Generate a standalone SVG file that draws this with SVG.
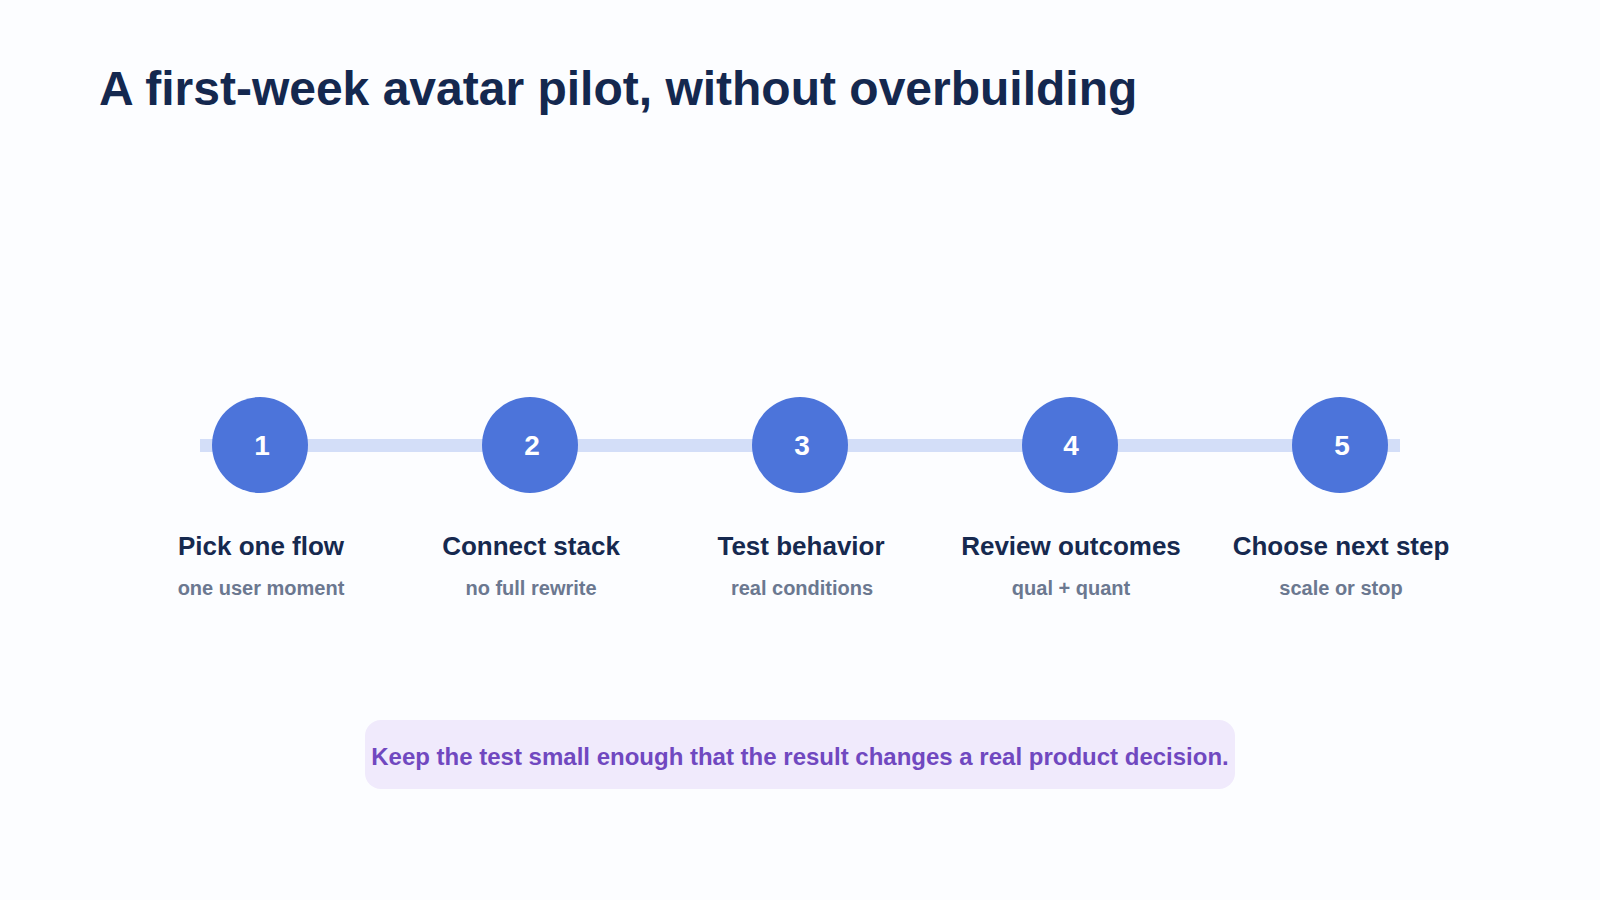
<svg xmlns="http://www.w3.org/2000/svg" width="1600" height="900" viewBox="0 0 1600 900">
<style>
text{font-family:"Liberation Sans",Arial,sans-serif;font-weight:bold}
.num{fill:#fff;font-size:28px;text-anchor:middle}
.lab{fill:#16294f;font-size:26px;text-anchor:middle}
.sub{fill:#6b7890;font-size:20px;text-anchor:middle}
.c{fill:#4c74da}
</style>
<rect width="1600" height="900" fill="#fcfdff"/>
<text x="99" y="105" font-size="48" fill="#14284f">A first-week avatar pilot, without overbuilding</text>
<g id="connectors"><rect x="200" y="439" width="1200" height="13" fill="#d3def8"/></g>
<g id="n1"><circle class="c" cx="260" cy="445" r="48"/><text class="num" x="262" y="455">1</text><text class="lab" x="261" y="555">Pick one flow</text><text class="sub" x="261" y="595">one user moment</text></g>
<g id="n2"><circle class="c" cx="530" cy="445" r="48"/><text class="num" x="532" y="455">2</text><text class="lab" x="531" y="555">Connect stack</text><text class="sub" x="531" y="595">no full rewrite</text></g>
<g id="n3"><circle class="c" cx="800" cy="445" r="48"/><text class="num" x="802" y="455">3</text><text class="lab" x="801" y="555">Test behavior</text><text class="sub" x="802" y="595">real conditions</text></g>
<g id="n4"><circle class="c" cx="1070" cy="445" r="48"/><text class="num" x="1071" y="455">4</text><text class="lab" x="1071" y="555">Review outcomes</text><text class="sub" x="1071" y="595">qual + quant</text></g>
<g id="n5"><circle class="c" cx="1340" cy="445" r="48"/><text class="num" x="1342" y="455">5</text><text class="lab" x="1341" y="555">Choose next step</text><text class="sub" x="1341" y="595">scale or stop</text></g>
<g id="note"><rect x="365" y="720" width="870" height="69" rx="16" fill="#f0eafc"/><text x="800" y="765" font-size="24" fill="#7048c0" text-anchor="middle">Keep the test small enough that the result changes a real product decision.</text></g>
</svg>
